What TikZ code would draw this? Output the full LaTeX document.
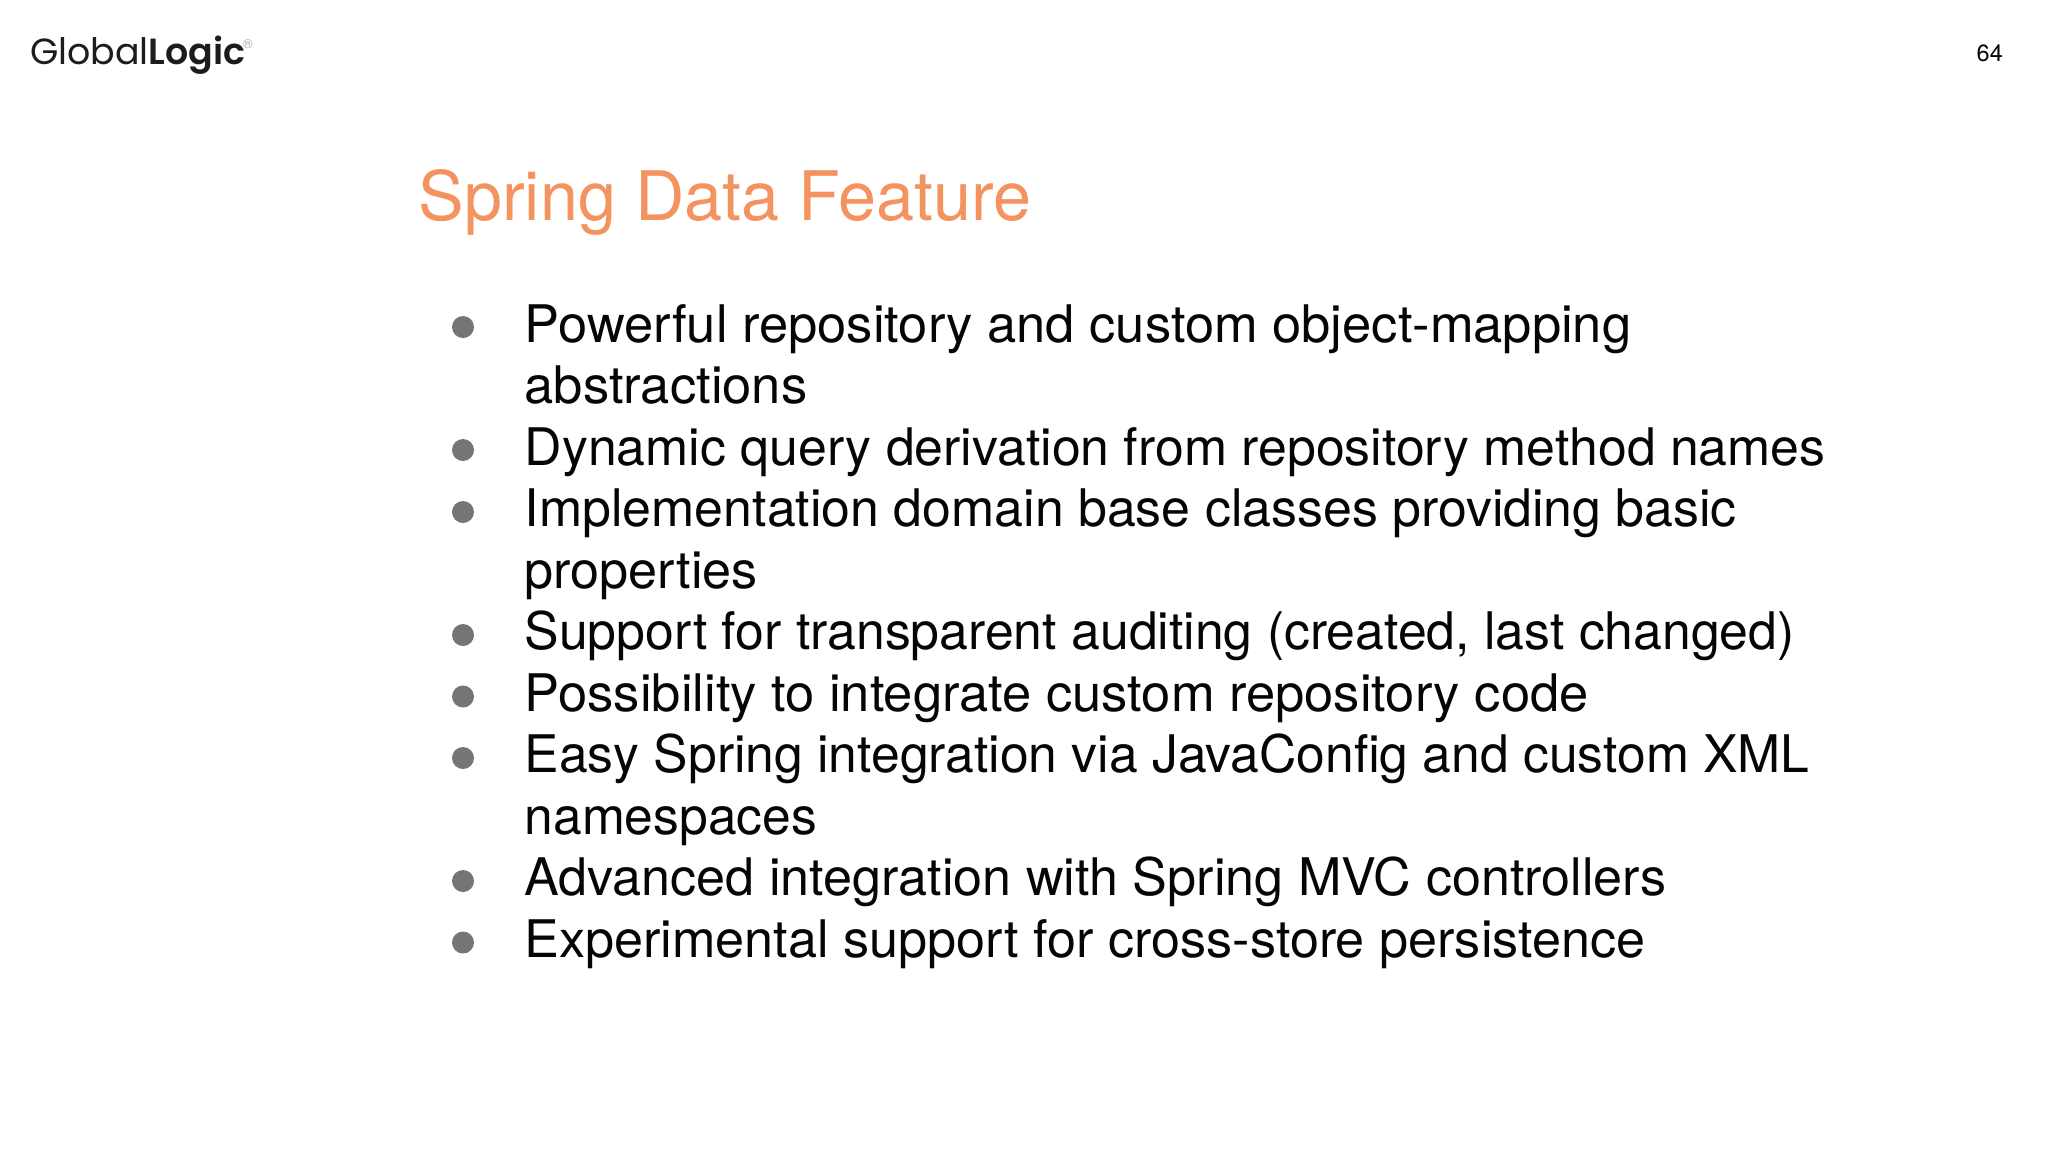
\documentclass[tikz,border=0pt]{standalone}
\usepackage{fontspec}
\setmainfont{TeX Gyre Heros}
\newfontfamily\logolight{Poppins}
\newfontfamily\logobold{Poppins SemiBold}
\definecolor{titleorange}{HTML}{F4935F}
\definecolor{bodyink}{HTML}{050505}
\definecolor{bulletgrey}{HTML}{757575}
\definecolor{logoink}{HTML}{1C1C1C}
\tikzset{
  line/.style={anchor=base west,inner sep=0pt,text=bodyink,font=\fontsize{51.8}{60}\selectfont,transform shape,xscale=#1},
  line/.default=1,
  dot/.style={circle,fill=bulletgrey,minimum size=22pt,inner sep=0pt,draw=none},
  heading/.style={anchor=base west,inner sep=0pt,text=titleorange,font=\fontsize{68.3}{80}\selectfont},
  pagenum/.style={anchor=base east,inner sep=0pt,text=bodyink,font=\fontsize{23.5}{28}\selectfont},
  logotext/.style={anchor=base west,inner sep=0pt,text=logoink,font=\fontsize{36.4}{44}\selectfont}
}
\begin{document}
\begin{tikzpicture}[x=1pt,y=-1pt]
\useasboundingbox (0,0) rectangle (2048,1152);
\fill[white] (0,0) rectangle (2048,1152);
\node[logotext] (logo) at (30,64) {{\logolight Global}{\logobold Logic}};
\node[anchor=base west,inner sep=0pt,text=gray!70,font=\fontsize{13}{15}\selectfont] (reg) at (243,48) {®};
\node[pagenum] (num) at (2003,61) {64};
\node[heading] (title) at (418.5,220) {Spring Data Feature};
\begin{scope}[y=1pt]
\node[line=1.013] (l1) at (524.5,-342) {Powerful repository and custom object-mapping};
\node[line=1.014] (l2) at (524.5,-403.5) {abstractions};
\node[line=1] (l3) at (524.5,-465) {Dynamic query derivation from repository method names};
\node[line=1.001] (l4) at (524.5,-526.5) {Implementation domain base classes providing basic};
\node[line=1.006] (l5) at (524.5,-588) {properties};
\node[line=.999] (l6) at (524.5,-649.5) {Support for transparent auditing (created, last changed)};
\node[line=1.0137] (l7) at (524.5,-711) {Possibility to integrate custom repository code};
\node[line=.997] (l8) at (524.5,-772.5) {Easy Spring integration via JavaConfig and custom XML};
\node[line=.995] (l9) at (524.5,-834) {namespaces};
\node[line=1.006] (l10) at (524.5,-895.5) {Advanced integration with Spring MVC controllers};
\node[line=1.007] (l11) at (524.5,-957) {Experimental support for cross-store persistence};
\end{scope}
\foreach \n/\y in {d1/327,d3/450,d4/512,d6/635,d7/696.5,d8/758,d10/881,d11/942.5}
  \node[dot] (\n) at (463,\y) {};
\end{tikzpicture}
\end{document}
